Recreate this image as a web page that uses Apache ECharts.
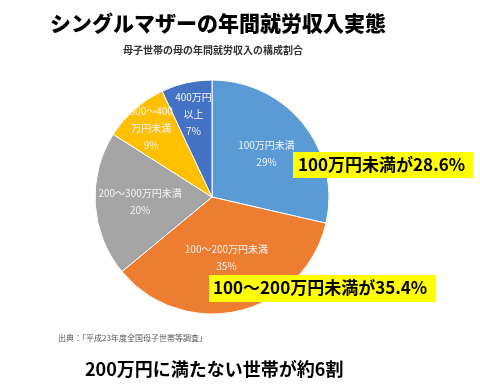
<!DOCTYPE html>
<html>
<head>
<meta charset="utf-8">
<script src="https://cdn.jsdelivr.net/npm/echarts@6/dist/echarts.min.js"></script>
<style>
html,body{margin:0;padding:0;background:#fff;}
#chart{width:480px;height:390px;}
</style>
</head>
<body>
<div id="chart"></div>
<script>
// ---- data ----
var categories = ['100万円未満', '100〜200万円未満', '200〜300万円未満', '300〜400\n万円未満', '400万円\n以上'];
var values = [28.6, 35.4, 20.0, 9.0, 7.0];
var colors = ['#5B9BD5', '#ED7D31', '#A5A5A5', '#FFC000', '#4472C4'];
var labelRadiusFrac = [0.57, 0.51, 0.59, 0.76, 0.70];

var mainTitle = 'シングルマザーの年間就労収入実態';
var subTitle = '母子世帯の母の年間就労収入の構成割合';
var callout1 = '100万円未満が28.6%';
var callout2 = '100〜200万円未満が35.4%';
var sourceText = '出典：「平成23年度全国母子世帯等調査」';
var conclusion = '200万円に満たない世帯が約6割';

var JP = '"Noto Sans CJK JP", "Noto Sans", sans-serif';
var R = 117;
var CX = 212, CY = 197;

var total = values.reduce(function(a, b){ return a + b; }, 0);
var midAngles = [];
(function(){
  var cum = 0;
  for (var i = 0; i < values.length; i++) {
    midAngles.push(2 * Math.PI * (cum + values[i] / 2) / total);
    cum += values[i];
  }
})();

var chart = echarts.init(document.getElementById('chart'), null, {renderer: 'canvas'});
chart.setOption({
  backgroundColor: '#ffffff',
  animation: false,
  title: [
    {text: mainTitle, left: 50, top: 13, padding: 0, textStyle: {fontFamily: JP, fontSize: 21, fontWeight: 900, color: '#000'}},
    {text: subTitle, left: 123, top: 45, padding: 0, textStyle: {fontFamily: JP, fontSize: 10, fontWeight: 'bold', color: '#333'}},
    {text: callout1, left: 293, top: 152, padding: [3, 8, 3, 5], backgroundColor: '#FFFF00',
      textStyle: {fontFamily: JP, fontSize: 17, fontWeight: 'bold', color: '#000', lineHeight: 20}},
    {text: callout2, left: 209, top: 275, padding: [3, 9, 4, 4], backgroundColor: '#FFFF00',
      textStyle: {fontFamily: JP, fontSize: 17, fontWeight: 'bold', color: '#000', lineHeight: 20}},
    {text: sourceText, left: 58, top: 334, padding: 0, textStyle: {fontFamily: JP, fontSize: 8, fontWeight: 'normal', color: '#555'}},
    {text: conclusion, left: 85, top: 360, padding: 0, textStyle: {fontFamily: JP, fontSize: 18, fontWeight: 'bold', color: '#000'}}
  ],
  series: [{
    type: 'pie',
    center: [CX, CY],
    radius: [0, R],
    startAngle: 90,
    clockwise: true,
    z: 1,
    data: categories.map(function(c, i){ return {name: c, value: values[i], itemStyle: {color: colors[i]}}; }),
    itemStyle: {borderColor: '#ffffff', borderWidth: 1},
    label: {
      show: true,
      position: 'inside',
      color: '#f4f4f4',
      fontFamily: JP,
      fontSize: 10,
      lineHeight: 17,
      formatter: function(p){ return p.name + '\n' + Math.round(p.percent) + '%'; }
    },
    labelLine: {show: false},
    labelLayout: function(p){
      var i = p.dataIndex;
      var d = (labelRadiusFrac[i] - 0.5) * R;
      return {dx: d * Math.sin(midAngles[i]), dy: -d * Math.cos(midAngles[i])};
    },
    emphasis: {disabled: true}
  }]
});
</script>
</body>
</html>
